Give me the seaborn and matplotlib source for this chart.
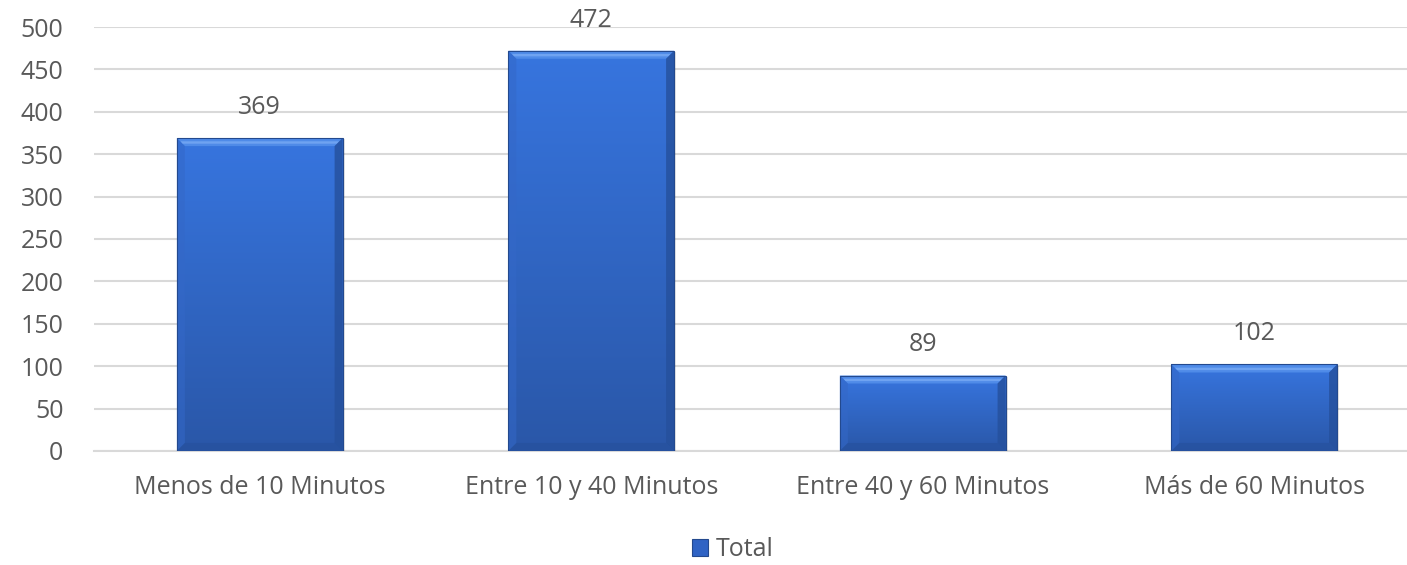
import numpy as np
import pandas as pd
import matplotlib
matplotlib.use("Agg")
import matplotlib.pyplot as plt
from matplotlib.colors import LinearSegmentedColormap
from matplotlib.patches import Polygon, Rectangle
import seaborn as sns

# Time spent per visit, counts by bucket
categories = ["Menos de 10 Minutos", "Entre 10 y 40 Minutos",
              "Entre 40 y 60 Minutos", "Más de 60 Minutos"]
totals = [369, 472, 89, 102]
y_ticks = [0, 50, 100, 150, 200, 250, 300, 350, 400, 450, 500]
series_name = "Total"

TEXT = "#595959"
GRID = "#D9D9D9"
TOP_BLUE = "#3775DF"
BOTTOM_BLUE = "#2A57A8"
FS = 18

sns.set_theme(style="white")
plt.rcParams["font.family"] = ["Open Sans", "DejaVu Sans"]

df = pd.DataFrame({"categoria": categories, "total": totals})

fig = plt.figure(figsize=(14.07, 5.65), dpi=100)
ax = fig.add_axes([0.0668, 0.2018, 0.9424, 0.7504])

sns.barplot(data=df, x="categoria", y="total", color=TOP_BLUE,
            width=0.5, ax=ax, zorder=3)

ax.set_ylim(0, 500)
ax.set_xlim(-0.5, len(categories) - 0.5)
ax.set_yticks(y_ticks)
ax.yaxis.grid(True, color=GRID, linewidth=1.5, zorder=0)
ax.set_axisbelow(True)
for s in ["top", "right", "left"]:
    ax.spines[s].set_visible(False)
ax.spines["bottom"].set_color(GRID)
ax.spines["bottom"].set_linewidth(1.5)
ax.spines["bottom"].set_zorder(1)
ax.set_xlabel("")
ax.set_ylabel("")

ax.tick_params(axis="y", length=0, pad=22, labelsize=FS, labelcolor=TEXT)
ax.tick_params(axis="x", which="major", length=0, pad=17, labelsize=FS,
               labelcolor=TEXT)
ax.set_xticks(np.arange(-0.5, len(categories) + 0.5, 1.0), minor=True)
ax.tick_params(axis="x", which="minor", length=6, width=1.5, color=GRID,
               direction="out")

# Vertical gradient fill plus bevelled edges for each bar
grad_cmap = LinearSegmentedColormap.from_list("bar", [BOTTOM_BLUE, TOP_BLUE])
fig.canvas.draw()
px_x = ax.transData.transform((1, 0))[0] - ax.transData.transform((0, 0))[0]
px_y = ax.transData.transform((0, 1))[1] - ax.transData.transform((0, 0))[1]
bev = 8.0
dx, dy = bev / px_x, bev / px_y

for patch, val in zip(ax.patches, totals):
    x0, y0 = patch.get_x(), patch.get_y()
    w, h = patch.get_width(), patch.get_height()
    x1, y1 = x0 + w, y0 + h
    patch.set_facecolor("none")
    patch.set_edgecolor("#23498E")
    patch.set_linewidth(0.8)
    patch.set_zorder(6)
    grad = np.linspace(0, 1, 256).reshape(-1, 1)
    img = ax.imshow(grad, cmap=grad_cmap, aspect="auto", origin="lower",
                    extent=[x0, x1, y0, y1], zorder=3, vmin=0, vmax=1)
    img.set_clip_path(patch)
    # bevel faces
    top = Polygon([(x0, y1), (x1, y1), (x1 - dx, y1 - dy), (x0 + dx, y1 - dy)],
                  closed=True, facecolor="#4F8BE8", edgecolor="none", zorder=4)
    hl = Polygon([(x0 + dx * 0.45, y1 - dy * 0.4), (x1 - dx * 0.45, y1 - dy * 0.4),
                  (x1 - dx * 0.7, y1 - dy * 0.7), (x0 + dx * 0.7, y1 - dy * 0.7)],
                 closed=True, facecolor="#6FA3F1", edgecolor="none", zorder=4)
    left = Polygon([(x0, y0), (x0, y1), (x0 + dx, y1 - dy), (x0 + dx, y0 + dy)],
                   closed=True, facecolor="#3468C8", edgecolor="none", zorder=4,
                   alpha=0.55)
    right = Polygon([(x1, y0), (x1, y1), (x1 - dx, y1 - dy), (x1 - dx, y0 + dy)],
                    closed=True, facecolor="#25509C", edgecolor="none", zorder=4,
                    alpha=0.8)
    bottom = Polygon([(x0, y0), (x1, y0), (x1 - dx, y0 + dy), (x0 + dx, y0 + dy)],
                     closed=True, facecolor="#25509C", edgecolor="none", zorder=4,
                     alpha=0.6)
    for p in (top, hl, left, right, bottom):
        ax.add_patch(p)
    # soft drop shadow
    sh = Rectangle((x0 + 0.006, y0), w, h - 1.5, facecolor="#000000", alpha=0.10,
                   edgecolor="none", zorder=2)
    ax.add_patch(sh)
    ax.annotate(f"{val}", (x0 + w / 2, y1), xytext=(0, 13),
                textcoords="offset points", ha="center", va="bottom",
                fontsize=FS, color=TEXT, annotation_clip=False)

# Legend with a small swatch
handle = Rectangle((0, 0), 1, 1, facecolor="#2F63C4", edgecolor="#23498E",
                   linewidth=0.8)
leg = fig.legend([handle], [series_name], loc="center",
                 bbox_to_anchor=(0.521, 0.027), frameon=False, fontsize=FS,
                 handlelength=0.65, handleheight=0.65, handletextpad=0.3,
                 labelcolor=TEXT)

fig.savefig("out.png", dpi=100)
